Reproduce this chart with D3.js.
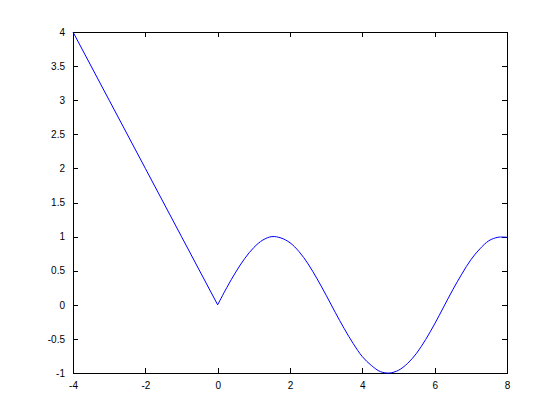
<!DOCTYPE html>
<html><head><meta charset="utf-8">
<script src="https://cdn.jsdelivr.net/npm/d3@7"></script>
<style>body{margin:0;background:#fff}svg{display:block}text{font-family:"Liberation Sans",Arial,sans-serif;font-size:10px;fill:#000}</style>
</head><body>
<script>
const xVals = [-4, -3, -2, -1, 0, 0.25, 0.5, 0.75, 1, 1.25, 1.5, 1.75, 2, 2.25, 2.5, 2.75, 3, 3.25, 3.5, 3.75, 4, 4.25, 4.5, 4.75, 5, 5.25, 5.5, 5.75, 6, 6.25, 6.5, 6.75, 7, 7.25, 7.5, 7.75, 8];
const yVals = [4, 3, 2, 1, 0, 0.25, 0.48, 0.68, 0.84, 0.95, 1.00, 0.98, 0.91, 0.78, 0.60, 0.38, 0.14, -0.11, -0.35, -0.57, -0.76, -0.89, -0.98, -1.00, -0.96, -0.86, -0.71, -0.51, -0.28, -0.03, 0.22, 0.45, 0.66, 0.82, 0.94, 0.99, 0.99];
const xTicks = [-4, -2, 0, 2, 4, 6, 8];
const yTicks = [-1, -0.5, 0, 0.5, 1, 1.5, 2, 2.5, 3, 3.5, 4];

const W = 560, H = 420;
const L = 73, R = 507, T = 32, B = 373;
const svg = d3.select("body").append("svg").attr("width", W).attr("height", H);
const x = d3.scaleLinear().domain([-4, 8]).range([L, R]);
const y = d3.scaleLinear().domain([-1, 4]).range([B, T]);

const fmt = d => String(d);
const tl = 5;
svg.append("g").attr("transform", `translate(0,${B})`)
  .call(d3.axisBottom(x).tickValues(xTicks).tickFormat(fmt).tickSizeInner(-tl).tickSizeOuter(0).tickPadding(9));
svg.append("g").attr("transform", `translate(0,${T})`)
  .call(d3.axisTop(x).tickValues(xTicks).tickFormat("").tickSizeInner(-tl).tickSizeOuter(0));
svg.append("g").attr("transform", `translate(${L},0)`)
  .call(d3.axisLeft(y).tickValues(yTicks).tickFormat(fmt).tickSizeInner(-tl).tickSizeOuter(0).tickPadding(8));
svg.append("g").attr("transform", `translate(${R},0)`)
  .call(d3.axisRight(y).tickValues(yTicks).tickFormat("").tickSizeInner(-tl).tickSizeOuter(0));
svg.selectAll(".domain").attr("stroke", "#000").attr("shape-rendering", "crispEdges");
svg.selectAll(".tick line").attr("stroke", "#000").attr("shape-rendering", "crispEdges");
svg.selectAll(".tick text").attr("fill", "#000").style("font-size", "10px").style("font-family", "Liberation Sans, Arial, sans-serif");

const pts = xVals.map((d, i) => [d, yVals[i]]);
const left = pts.filter(d => d[0] <= 0);
const right = pts.filter(d => d[0] >= 0);
const line = c => d3.line().x(d => x(d[0])).y(d => y(d[1])).curve(c);
svg.append("path").datum(left)
  .attr("fill", "none").attr("stroke", "#0000ff").attr("stroke-width", 1)
  .attr("d", line(d3.curveLinear));
svg.append("path").datum(right)
  .attr("fill", "none").attr("stroke", "#0000ff").attr("stroke-width", 1)
  .attr("d", line(d3.curveCatmullRom.alpha(0.5)));
</script>
</body></html>
